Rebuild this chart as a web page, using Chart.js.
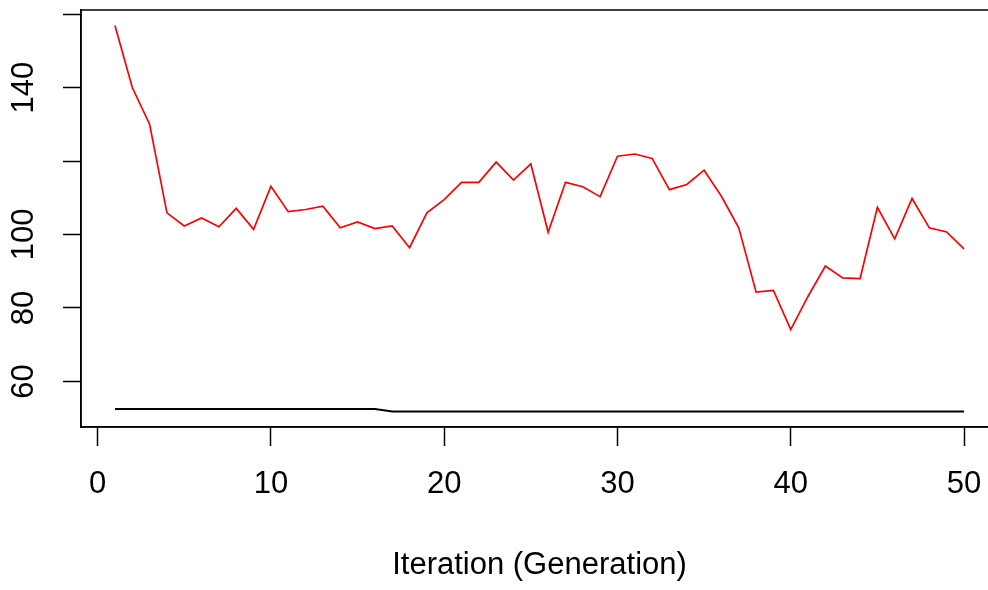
<!DOCTYPE html>
<html>
<head>
<meta charset="utf-8">
<script src="https://cdn.jsdelivr.net/npm/chart.js@4.4.0/dist/chart.umd.min.js"></script>
<style>
  html, body { margin: 0; padding: 0; background: #fff; overflow: hidden; }
  #wrap { width: 988px; height: 590px; overflow: hidden; }
</style>
</head>
<body>
<div id="wrap"><canvas id="grafico" width="1000" height="590" style="width:1000px;height:590px"></canvas></div>
<script>
const geracoes = [1, 2, 3, 4, 5, 6, 7, 8, 9, 10, 11, 12, 13, 14, 15, 16, 17, 18, 19, 20,
    21, 22, 23, 24, 25, 26, 27, 28, 29, 30, 31, 32, 33, 34, 35, 36, 37, 38, 39, 40,
    41, 42, 43, 44, 45, 46, 47, 48, 49, 50]

// fitness medio (vermelho)
const fitnessMedio = [156.9, 140.0, 130.0, 105.9, 102.3, 104.5, 102.1, 107.1, 101.4, 113.1,
    106.2, 106.8, 107.7, 101.8, 103.4, 101.6, 102.3, 96.4, 105.9, 109.5,
    114.2, 114.2, 119.7, 114.8, 119.2, 100.6, 114.2, 113.0, 110.3, 121.3,
    121.9, 120.7, 112.2, 113.6, 117.5, 110.4, 101.8, 84.3, 84.8, 74.1,
    83.2, 91.4, 88.2, 88.0, 107.4, 98.8, 109.8, 101.8, 100.7, 96.1]

// melhor fitness (preto)
const fitnessMelhor = [52.5, 52.5, 52.5, 52.5, 52.5, 52.5, 52.5, 52.5, 52.5, 52.5,
    52.5, 52.5, 52.5, 52.5, 52.5, 52.5, 51.8, 51.8, 51.8, 51.8,
    51.8, 51.8, 51.8, 51.8, 51.8, 51.8, 51.8, 51.8, 51.8, 51.8,
    51.8, 51.8, 51.8, 51.8, 51.8, 51.8, 51.8, 51.8, 51.8, 51.8,
    51.8, 51.8, 51.8, 51.8, 51.8, 51.8, 51.8, 51.8, 51.8, 51.8]

const xTicks = [0, 10, 20, 30, 40, 50]
const yTicks = [60, 80, 100, 120, 140, 160]
const yLabels = ['60', '80', '100', '', '140', '']

const tituloX = 'Iteration (Generation)'
const fonte = 'Liberation Sans, Arial, sans-serif'

const caixa = {
    id: 'caixa',
    afterDraw(chart) {
        const { ctx, chartArea: a } = chart
        ctx.save()
        ctx.strokeStyle = '#000'
        ctx.lineWidth = 1.5
        ctx.strokeRect(a.left, a.top, a.right - a.left, a.bottom - a.top)
        ctx.restore()
    }
}

const pontos = serie => geracoes.map((g, i) => ({ x: g, y: serie[i] }))

// tira o padding extra que os rotulos girados pedem
function semPadding(s) {
    s.paddingTop = 0
    s.paddingBottom = 0
    s.paddingLeft = 0
    s.paddingRight = 0
}

new Chart(document.getElementById('grafico'), {
    type: 'line',
    data: {
        datasets: [
            {
                data: pontos(fitnessMedio),
                borderColor: '#ff0000',
                borderWidth: 1.7,
                pointRadius: 0,
                tension: 0
            },
            {
                data: pontos(fitnessMelhor),
                borderColor: '#000000',
                borderWidth: 2,
                pointRadius: 0,
                tension: 0
            }
        ]
    },
    options: {
        responsive: false,
        animation: false,
        layout: { padding: { top: 10, right: 2, left: 0, bottom: 0 } },
        plugins: {
            legend: { display: false },
            tooltip: { enabled: false }
        },
        scales: {
            x: {
                type: 'linear',
                min: -0.96,
                max: 51.96,
                afterBuildTicks: s => { s.ticks = xTicks.map(v => ({ value: v })) },
                afterFit: s => { s.height = 163; semPadding(s) },
                grid: { drawOnChartArea: false, tickLength: 19, tickColor: '#000', tickWidth: 1.5 },
                border: { display: true, color: '#000', width: 1.5 },
                ticks: {
                    color: '#000',
                    padding: 20,
                    maxRotation: 0,
                    font: { family: fonte, size: 31 },
                    callback: v => String(v)
                },
                title: {
                    display: true,
                    text: tituloX,
                    color: '#000',
                    font: { family: fonte, size: 31 },
                    padding: { top: 0, bottom: 6 }
                }
            },
            y: {
                min: 47.6,
                max: 161.1,
                afterBuildTicks: s => { s.ticks = yTicks.map(v => ({ value: v })) },
                afterFit: s => { s.width = 81; semPadding(s) },
                grid: { drawOnChartArea: false, tickLength: 18, tickColor: '#000', tickWidth: 1.5 },
                border: { display: true, color: '#000', width: 1.5 },
                ticks: {
                    color: '#000',
                    padding: 13,
                    minRotation: 90,
                    maxRotation: 90,
                    crossAlign: 'center',
                    font: { family: fonte, size: 31 },
                    callback: v => yLabels[yTicks.indexOf(v)]
                }
            }
        }
    },
    plugins: [caixa]
})
</script>
</body>
</html>
